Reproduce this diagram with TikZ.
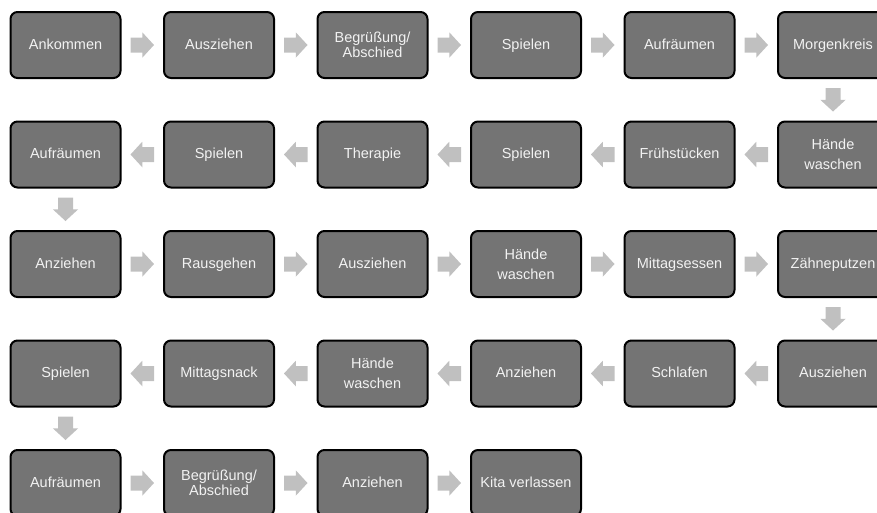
\documentclass[tikz,border=0pt]{standalone}
\usepackage{fontspec}
\setmainfont{Liberation Sans}
\usetikzlibrary{calc}
\definecolor{boxgray}{RGB}{116,116,116}
\definecolor{arrowgray}{RGB}{192,192,192}
\definecolor{labelwhite}{RGB}{242,242,242}
\tikzset{
  basebox/.style={draw=black, line width=2pt, fill=boxgray, rounded corners=7pt,
    minimum width=110pt, minimum height=66pt, inner sep=2pt, align=center,
    text=labelwhite, font=\fontsize{14.5}{20}\selectfont},
  % one-line labels share one baseline, descenders or not
  stepbox/.style={basebox, text height=11pt, text depth=2.5pt},
  twolinebox/.style={basebox},
  tightbox/.style={basebox, font=\fontsize{14.5}{13.5}\selectfont},
  blockarr/.pic={\fill[arrowgray] (-11.75,-7.5) -- (0,-7.5) -- (0,-12.75)
    -- (11.75,0) -- (0,12.75) -- (0,7.5) -- (-11.75,7.5) -- cycle;}
}
\begin{document}
\begin{tikzpicture}[x=1pt, y=-1pt]
\useasboundingbox (0,0) rectangle (877,512);
\clip (0,0) rectangle (877,512);
% row 1, left to right
\node[stepbox]    (a1) at (65.5,45)  {Ankommen};
\node[stepbox]    (a2) at (219,45)   {Ausziehen};
\node[tightbox]   (a3) at (372.5,45) {Begrüßung/\\Abschied};
\node[stepbox]    (a4) at (526,45)   {Spielen};
\node[stepbox]    (a5) at (679.5,45) {Aufräumen};
\node[stepbox]    (a6) at (833,45)   {Morgenkreis};
% row 2, right to left
\node[twolinebox] (b1) at (833,154.5)   {Hände\\waschen};
\node[stepbox]    (b2) at (679.5,154.5) {Frühstücken};
\node[stepbox]    (b3) at (526,154.5)   {Spielen};
\node[stepbox]    (b4) at (372.5,154.5) {Therapie};
\node[stepbox]    (b5) at (219,154.5)   {Spielen};
\node[stepbox]    (b6) at (65.5,154.5)  {Aufräumen};
% row 3, left to right
\node[stepbox]    (c1) at (65.5,264)  {Anziehen};
\node[stepbox]    (c2) at (219,264)   {Rausgehen};
\node[stepbox]    (c3) at (372.5,264) {Ausziehen};
\node[twolinebox] (c4) at (526,264)   {Hände\\waschen};
\node[stepbox]    (c5) at (679.5,264) {Mittagsessen};
\node[stepbox]    (c6) at (833,264)   {Zähneputzen};
% row 4, right to left
\node[stepbox]    (d1) at (833,373.5)   {Ausziehen};
\node[stepbox]    (d2) at (679.5,373.5) {Schlafen};
\node[stepbox]    (d3) at (526,373.5)   {Anziehen};
\node[twolinebox] (d4) at (372.5,373.5) {Hände\\waschen};
\node[stepbox]    (d5) at (219,373.5)   {Mittagsnack};
\node[stepbox]    (d6) at (65.5,373.5)  {Spielen};
% row 5, left to right
\node[stepbox]    (e1) at (65.5,483)  {Aufräumen};
\node[tightbox]   (e2) at (219,483)   {Begrüßung/\\Abschied};
\node[stepbox]    (e3) at (372.5,483) {Anziehen};
\node[stepbox]    (e4) at (526,483)   {Kita verlassen};
% block arrows between consecutive steps: from/to/rotation
\foreach \p/\q/\r in {a1/a2/0, a2/a3/0, a3/a4/0, a4/a5/0, a5/a6/0, a6/b1/-90,
    b1/b2/180, b2/b3/180, b3/b4/180, b4/b5/180, b5/b6/180, b6/c1/-90,
    c1/c2/0, c2/c3/0, c3/c4/0, c4/c5/0, c5/c6/0, c6/d1/-90,
    d1/d2/180, d2/d3/180, d3/d4/180, d4/d5/180, d5/d6/180, d6/e1/-90,
    e1/e2/0, e2/e3/0, e3/e4/0}
  \pic[rotate=\r] at ($(\p)!0.5!(\q)$) {blockarr};
\end{tikzpicture}
\end{document}
